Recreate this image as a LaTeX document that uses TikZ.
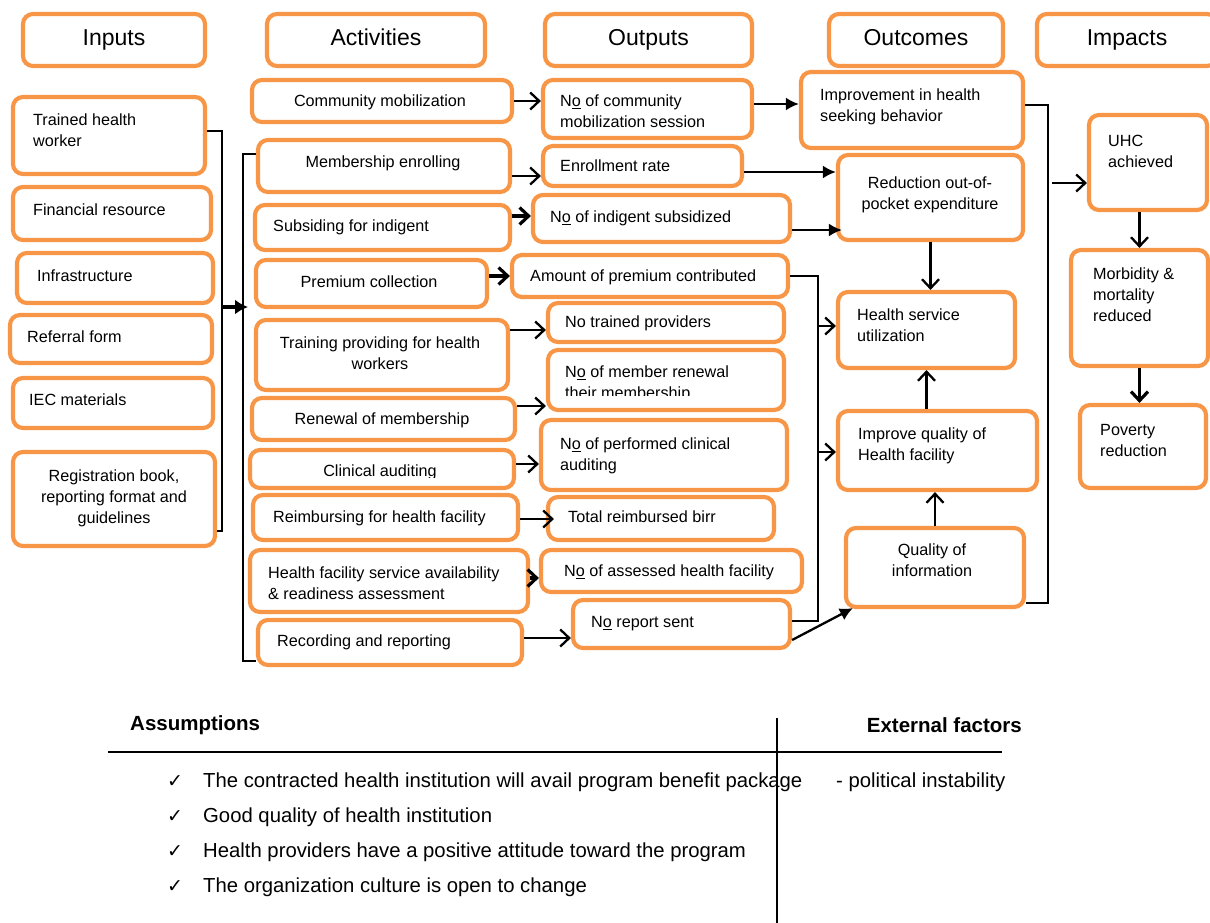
\documentclass[tikz,border=0pt]{standalone}
\usepackage{fontspec}
\setmainfont{Liberation Sans}
\newfontfamily\dejavu{DejaVu Sans}
\usetikzlibrary{arrows.meta,calc}
\definecolor{boxor}{HTML}{F79646}
\tikzset{
 box/.style={draw=boxor, line width=4.2pt, rounded corners=10pt, inner sep=0pt, fill=white},
 txt/.style={inner sep=0pt, align=left, font=\fontsize{16.2}{21}\selectfont},
 ctxt/.style={txt, align=center, anchor=north},
 ltxt/.style={txt, anchor=north west},
 hdr/.style={box, font=\fontsize{23}{26}\selectfont, text height=16pt, text depth=5pt},
 conn/.style={draw=black, line width=2.3pt},
 oarr/.style={conn, -{Straight Barb[length=9pt,width=17pt]}},
 toarr/.style={oarr, line width=3.2pt},
 farr/.style={conn, -{Latex[length=13pt,width=13pt]}},
 btxt/.style={inner sep=0pt, anchor=base west, font=\fontsize{20.3}{23}\selectfont},
 bhdr/.style={inner sep=0pt, font=\fontsize{20.5}{23}\selectfont\bfseries},
}
\newcommand\bx[6][box]{\node[#1, minimum width={(#5-#3)*1pt}, minimum height={(#6-#4)*1pt}] (#2) at ({(#3+#5)/2},{(#4+#6)/2}) {};}
\newcommand\hbx[6]{\node[hdr, minimum width={(#4-#2)*1pt}, minimum height={(#5-#3)*1pt}] (#1) at ({(#2+#4)/2},{(#3+#5)/2}) {#6};}
\newcommand\No{N\underline{o}}
\begin{document}
\begin{tikzpicture}[x=1pt,y=-1pt]
\useasboundingbox (0,0) rectangle (1210,923);
\clip (0,0) rectangle (1210,923);
% headers
\hbx{hIn}{23}{14}{205}{66}{Inputs}
\hbx{hAc}{267}{14}{485}{66}{Activities}
\hbx{hOu}{545}{14}{752}{66}{Outputs}
\hbx{hOc}{829}{14}{1003}{66}{Outcomes}
\hbx{hIm}{1037}{14}{1217}{66}{Impacts}
% inputs
\bx{tr}{13}{97}{205}{174}
\node[ltxt] (trT) at (33,114) {Trained health\\worker};
\bx{fin}{13}{187}{211}{240}
\node[ltxt] (finT) at (33,204) {Financial resource};
\bx{inf}{17}{253}{213}{303}
\node[ltxt] (infT) at (37,270) {Infrastructure};
\bx{ref}{10}{315}{212}{363}
\node[ltxt] (refT) at (27,331) {Referral form};
\bx{iec}{13}{378}{213}{428}
\node[ltxt] (iecT) at (29,394) {IEC materials};
\bx{reg}{13}{452}{215}{546}
\node[ctxt] (regT) at (114,470) {Registration book,\\reporting format and\\guidelines};
% activities
\bx{cm}{252}{80}{512}{122}
\node[ctxt] (cmT) at (380,95) {Community mobilization};
\bx{me}{258}{140}{510}{192}
\node[ctxt] (meT) at (383,156) {Membership enrolling};
\bx{sub}{255}{205}{510}{250}
\node[ltxt] (subT) at (273,220) {Subsiding for indigent};
\bx{pc}{256}{260}{487}{307}
\node[ctxt] (pcT) at (369,276) {Premium collection};
\bx{trn}{256}{320}{508}{390}
\node[ctxt] (trnT) at (380,337) {Training providing for health\\workers};
\bx{ren}{252}{398}{515}{440}
\node[ctxt] (renT) at (382,413) {Renewal of membership};
\bx{ca}{250}{450}{514}{488}
\begin{scope}
\clip (250,450) rectangle (514,477);
\node[ctxt] (caT) at (380,465) {Clinical auditing};
\end{scope}
\bx{rb}{253}{495}{518}{540}
\node[ltxt] (rbT) at (273,511) {Reimbursing for health facility};
\bx{hf}{250}{550}{528}{612}
\node[ltxt] (hfT) at (268,567) {Health facility service availability\\\& readiness assessment};
\bx{rec}{258}{620}{522}{665}
\node[ltxt] (recT) at (277,635) {Recording and reporting};
% outputs
\bx{o1}{543}{80}{752}{138}
\node[ltxt] (o1T) at (560,95) {\No{} of community\\mobilization session};
\bx{o2}{543}{146}{742}{186}
\node[ltxt] (o2T) at (560,160) {Enrollment rate};
\bx{o3}{533}{195}{790}{242}
\node[ltxt] (o3T) at (550,211) {\No{} of indigent subsidized};
\bx{o4}{512}{255}{788}{297}
\node[ltxt] (o4T) at (530,270) {Amount of premium contributed};
\bx{o5}{548}{303}{784}{342}
\node[ltxt] (o5T) at (565,316) {No trained providers};
\bx{o6}{548}{350}{784}{410}
\begin{scope}
\clip (548,350) rectangle (784,395);
\node[ltxt] (o6T) at (565,366) {\No{} of member renewal\\their membership};
\end{scope}
\bx{o7}{541}{420}{787}{490}
\node[ltxt] (o7T) at (560,438) {\No{} of performed clinical\\auditing};
\bx{o8}{548}{497}{774}{540}
\node[ltxt] (o8T) at (568,511) {Total reimbursed birr};
\bx{o9}{541}{550}{802}{592}
\node[ltxt] (o9T) at (564,565) {\No{} of assessed health facility};
\bx{o10}{573}{600}{790}{648}
\node[ltxt] (o10T) at (591,616) {\No{} report sent};
% outcomes
\bx{imp}{801}{72}{1023}{148}
\node[ltxt] (impT) at (820,89) {Improvement in health\\seeking behavior};
\bx{red}{838}{155}{1023}{240}
\node[ctxt] (redT) at (930,177) {Reduction out-of-\\pocket expenditure};
\bx{hsu}{838}{292}{1015}{368}
\node[ltxt] (hsuT) at (857,309) {Health service\\utilization};
\bx{iq}{838}{411}{1037}{490}
\node[ltxt] (iqT) at (858,428) {Improve quality of\\Health facility};
\bx{qi}{846}{528}{1024}{607}
\node[ctxt] (qiT) at (932,544) {Quality of\\information};
% impacts
\bx{uhc}{1089}{115}{1207}{210}
\node[ltxt] (uhcT) at (1108,135) {UHC\\achieved};
\bx{mor}{1071}{250}{1208}{366}
\node[ltxt] (morT) at (1093,268) {Morbidity \&\\mortality\\reduced};
\bx{pov}{1080}{405}{1206}{488}
\node[ltxt] (povT) at (1100,424) {Poverty\\reduction};
% input bracket
\coordinate (ib1) at (222,131);
\coordinate (ib2) at (222,531);
\coordinate (ibm) at (222,307);
\coordinate (ab) at (248,307);
\draw[conn] (tr.east |- ib1) -- (ib1) -- (ib2) -- (reg.east |- ib2);
\draw[conn, line width=3.5pt, -{Latex[length=13pt,width=15pt]}] (ibm) -- (ab);
% activities bracket
\coordinate (ab1) at (243,154);
\coordinate (ab2) at (243,661);
\draw[conn] (me.west |- ab1) -- (ab1) -- (ab2) -- (rec.west |- ab2);
% activities -> outputs
\draw[oarr] (cm.east |- 0,101) -- (o1.west |- 0,101);
\draw[oarr] (me.east |- 0,176) -- (o2.west |- 0,176);
\draw[toarr] (sub.east |- 0,216) -- (o3.west |- 0,216);
\draw[toarr] (pc.east |- 0,276) -- (o4.west |- 0,276);
\draw[oarr] (trn.east |- 0,330) -- (o5.west |- 0,330);
\draw[oarr] (ren.east |- 0,406) -- (o6.west |- 0,406);
\draw[oarr] (ca.east |- 0,464) -- (o7.west |- 0,464);
\draw[oarr] (rb.east |- 0,519) -- ($(o8.west |- 0,519)+(8,0)$);
\draw[toarr] (hf.east |- 0,578) -- (o9.west |- 0,578);
\draw[oarr] (rec.east |- 0,638) -- (o10.west |- 0,638);
% outputs -> outcomes
\draw[farr] (o1.east |- 0,104) -- (imp.west |- 0,104);
\draw[farr] (o2.east |- 0,172) -- (red.west |- 0,172);
\draw[farr] (o3.east |- 0,230) -- ($(red.west |- 0,230)+(6,0)$);
\coordinate (vb) at (818,276);
\coordinate (vbb) at (818,621);
\draw[conn] (o4.east) -- (vb) -- (vbb) -- (o10.east |- vbb);
\draw[oarr] (vb |- 0,326) -- (hsu.west |- 0,326);
\draw[oarr] (vb |- 0,452) -- (iq.west |- 0,452);
\draw[farr] (o10.east |- 0,640) -- ($(qi.south west)+(9,-1)$);
% outcomes internal
\draw[oarr] (red.south) -- (red.south |- hsu.north);
\draw[oarr] (hsu.south |- iq.north) -- (hsu.south);
\draw[oarr] (qi.north) -- (qi.north |- iq.south);
% outcomes bracket -> impacts
\coordinate (ob1) at (1048,105);
\coordinate (ob2) at (1048,603);
\coordinate (ob3) at (1052,183);
\draw[conn] (imp.east |- ob1) -- (ob1) -- (ob2) -- (qi.east |- ob2);
\draw[oarr] (ob3) -- (uhc.west |- ob3);
\draw[oarr] (mor.north |- uhc.south) -- (mor.north);
\draw[toarr] (mor.south) -- (mor.south |- pov.north);
% assumptions / external factors
\node[bhdr, anchor=west] (asH) at (130,725) {Assumptions};
\node[bhdr, anchor=east] (exH) at (1022,725) {External factors};
\draw[line width=2.4pt] (108,752) -- (1002,752);
\draw[line width=1.8pt] (777,718) -- (777,923);
\foreach \yy/\tt [count=\i] in {780/The contracted health institution will avail program benefit package,
  815/Good quality of health institution,
  850/Health providers have a positive attitude toward the program,
  885/The organization culture is open to change}{
  \node[inner sep=0pt, anchor=base west, font=\dejavu\fontsize{19}{21}\selectfont] (ck\i) at (167,\yy+7) {✓};
  \node[btxt] (as\i) at (203,\yy+7) {\tt};
}
\node[btxt] (ex1) at (836,787) {- political instability};
\end{tikzpicture}
\end{document}
